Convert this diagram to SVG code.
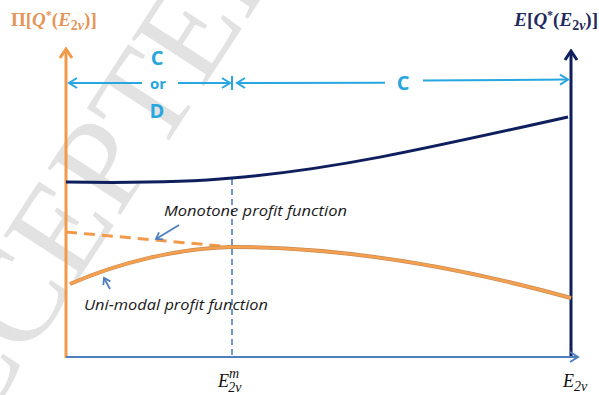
<svg xmlns="http://www.w3.org/2000/svg" width="599" height="395" viewBox="0 0 599 395">
<style>
.wm{font-family:"Liberation Serif",serif;font-size:132px;fill:#e2e2e2;}
.lbl{font-family:"Open Sans","Liberation Sans",sans-serif;font-style:italic;font-size:14px;fill:#1a1a1a;}
.cd{font-family:"Open Sans","Liberation Sans",sans-serif;font-weight:bold;fill:#27a6e0;}
.math{font-family:"Liberation Serif","DejaVu Serif",serif;font-style:italic;fill:#111;}
.top{font-family:"Liberation Serif","DejaVu Serif",serif;font-weight:bold;font-size:19px;}
.cy{stroke:#27a6e0;stroke-width:2;fill:none;}
</style>
<defs>
<marker id="aO" viewBox="-12 -8 14 16" refX="0" refY="0" markerWidth="14" markerHeight="16" markerUnits="userSpaceOnUse" orient="auto"><path d="M-9,-6 L0,0 L-9,6" fill="none" stroke="#f29a4a" stroke-width="3"/></marker>
<marker id="aN" viewBox="-12 -8 14 16" refX="0" refY="0" markerWidth="14" markerHeight="16" markerUnits="userSpaceOnUse" orient="auto"><path d="M-9,-6 L0,0 L-9,6" fill="none" stroke="#0f1f5e" stroke-width="3"/></marker>
<marker id="aS" viewBox="-12 -8 14 16" refX="0" refY="0" markerWidth="14" markerHeight="16" markerUnits="userSpaceOnUse" orient="auto"><path d="M-8,-5 L0,0 L-8,5" fill="none" stroke="#4f7fbd" stroke-width="2"/></marker>
<marker id="aC" viewBox="-12 -8 14 16" refX="0" refY="0" markerWidth="14" markerHeight="16" markerUnits="userSpaceOnUse" orient="auto"><path d="M-8,-5 L0,0 L-8,5" fill="none" stroke="#27a6e0" stroke-width="2"/></marker>
<marker id="aSm" viewBox="-8 -6 10 12" refX="0" refY="0" markerWidth="10" markerHeight="12" markerUnits="userSpaceOnUse" orient="auto"><path d="M-6,-4 L0,0 L-6,4" fill="none" stroke="#4f7fbd" stroke-width="1.8"/></marker>
</defs>
<rect width="599" height="395" fill="#fff"/>
<text class="wm" transform="translate(112,228) rotate(-57)" text-anchor="middle">ACCEPTED</text>

<g id="axes">
<line x1="66" y1="358" x2="66" y2="49" stroke="#f29a4a" stroke-width="3" marker-end="url(#aO)"/>
<line x1="571" y1="358" x2="571" y2="51" stroke="#0f1f5e" stroke-width="3" marker-end="url(#aN)"/>
<line x1="66" y1="357" x2="578" y2="357" stroke="#4f7fbd" stroke-width="2" marker-end="url(#aS)"/>
<line x1="232" y1="179" x2="232" y2="357" stroke="#4f7fbd" stroke-width="1.6" stroke-dasharray="6,4"/>
</g>

<g id="curves">
<path d="M66,182 C130,183 190,182 232,178 C330,170 420,150 568,117" fill="none" stroke="#0f1f5e" stroke-width="3"/>
<path d="M66,232 L232,247" fill="none" stroke="#f29a4a" stroke-width="3" stroke-dasharray="11,7"/>
<path d="M70,284 C120,262 180,248 232,247 C350,247 470,270 571,298" fill="none" stroke="#c98a52" stroke-width="4"/>
<path d="M70,284 C120,262 180,248 232,247 C350,247 470,270 571,298" fill="none" stroke="#f4a04f" stroke-width="2.6"/>
</g>

<g id="regions">
<text class="cd" x="157" y="65" font-size="20" text-anchor="middle">C</text>
<text class="cd" x="158" y="89" font-size="15" text-anchor="middle">or</text>
<text class="cd" x="157" y="118" font-size="20" text-anchor="middle">D</text>
<text class="cd" x="403" y="90" font-size="20" text-anchor="middle">C</text>
</g>

<g id="connectors">
<line class="cy" x1="142" y1="83" x2="69" y2="83" marker-end="url(#aC)"/>
<line class="cy" x1="178" y1="83" x2="230" y2="83" marker-end="url(#aC)"/>
<line class="cy" x1="232" y1="76" x2="232" y2="90"/>
<line class="cy" x1="385" y1="82.7" x2="237" y2="83" marker-end="url(#aC)"/>
<line class="cy" x1="423" y1="80.5" x2="568" y2="79.5" marker-end="url(#aC)"/>
<line x1="179" y1="225" x2="156" y2="239" stroke="#4f7fbd" stroke-width="1.8" marker-end="url(#aSm)"/>
<line x1="110" y1="289" x2="104" y2="278" stroke="#4f7fbd" stroke-width="1.8" marker-end="url(#aSm)"/>
</g>

<g id="labels">
<text class="lbl" x="164" y="216" textLength="183" lengthAdjust="spacingAndGlyphs">Monotone profit function</text>
<text class="lbl" x="84" y="310" textLength="184" lengthAdjust="spacingAndGlyphs">Uni-modal profit function</text>
</g>

<g id="ticks">
<text class="math" x="218" y="387" font-size="18">E<tspan font-size="14" dy="-9">m</tspan><tspan font-size="14" dx="-11" dy="14">2v</tspan></text>
<text class="math" x="563" y="387" font-size="18">E<tspan font-size="14" dy="4">2v</tspan></text>
</g>

<g id="titles">
<text class="top" x="11" y="26" fill="#e3955a">Π[<tspan font-style="italic">Q</tspan><tspan font-size="12" dy="-7">*</tspan><tspan dy="7">(</tspan><tspan font-style="italic">E</tspan><tspan font-size="14" dy="4">2<tspan font-style="italic">v</tspan></tspan><tspan dy="-4">)]</tspan></text>
<text class="top" x="598" y="26" fill="#1f2a5e" text-anchor="end"><tspan font-style="italic">E</tspan>[<tspan font-style="italic">Q</tspan><tspan font-size="12" dy="-7">*</tspan><tspan dy="7">(</tspan><tspan font-style="italic">E</tspan><tspan font-size="14" dy="4">2<tspan font-style="italic">v</tspan></tspan><tspan dy="-4">)]</tspan></text>
</g>
</svg>
